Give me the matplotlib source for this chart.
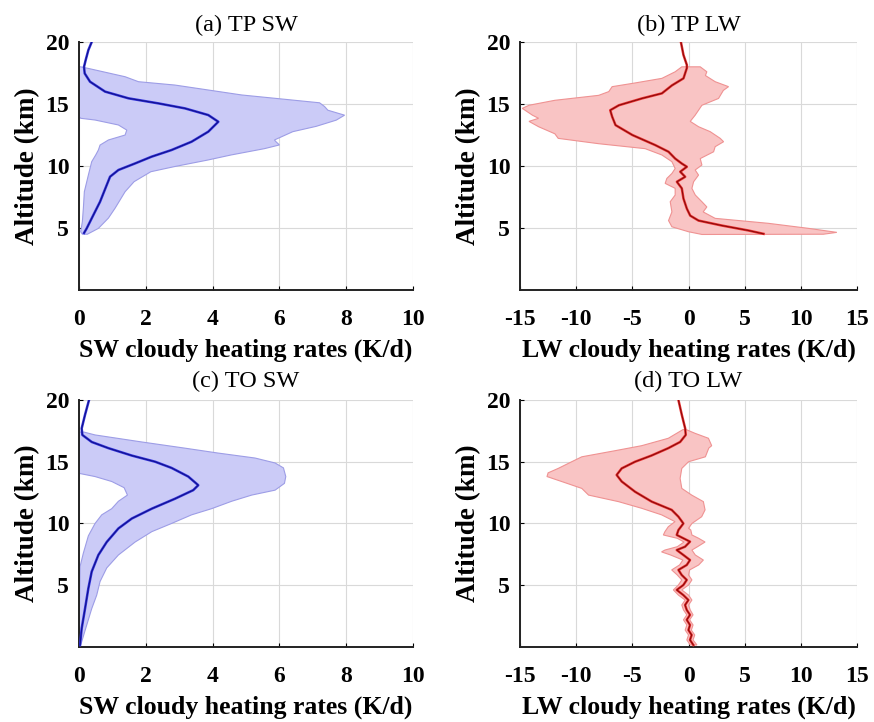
import matplotlib
matplotlib.use("Agg")
import matplotlib.pyplot as plt

plt.rcParams["font.family"] = ["Liberation Serif", "DejaVu Serif"]
plt.rcParams["axes.unicode_minus"] = False  # the reference uses a plain hyphen

# ---- (a) TP SW ----
a_mean_alt = [20.0, 19.35, 18.55, 18.0, 17.47, 16.8, 16.0, 15.46, 15.05, 14.65, 14.11, 13.57,
              12.77, 11.96, 11.29, 10.75, 10.21, 9.68, 9.14, 8.47, 7.12, 6.05, 4.97, 4.6]
a_mean = [0.38, 0.28, 0.2, 0.15, 0.17, 0.33, 0.78, 1.48, 2.38, 3.17, 3.87, 4.17,
          3.87, 3.37, 2.77, 2.17, 1.68, 1.18, 0.93, 0.83, 0.63, 0.43, 0.23, 0.15]
a_hi_alt = [18.0, 17.87, 17.2, 16.8, 16.53, 16.13, 15.73, 15.46, 15.1, 14.8, 14.5, 14.1, 13.7,
            13.2, 12.77, 12.1, 11.95, 11.7, 11.4, 10.89, 10.48, 9.95, 9.54, 8.74, 7.93, 6.6,
            5.8, 4.97, 4.5]
a_hi = [0.05, 0.28, 1.38, 1.78, 2.87, 3.87, 4.87, 5.87, 7.2, 7.35, 7.45, 7.95, 7.7,
        7.1, 6.4, 5.85, 5.9, 6.0, 5.55, 4.55, 3.85, 2.85, 2.15, 1.65, 1.38, 1.08,
        0.88, 0.58, 0.25]
a_lo_alt = [18.0, 14.0, 13.85, 13.71, 13.31, 12.9, 12.5, 12.1, 11.69, 11.29, 10.89, 10.35,
            9.27, 7.93, 6.59, 5.51, 4.7, 4.5]
a_lo = [0.0, 0.0, 0.05, 0.48, 1.18, 1.43, 1.38, 0.88, 0.63, 0.58, 0.5, 0.38,
        0.28, 0.16, 0.13, 0.1, 0.05, 0.1]

# ---- (b) TP LW ----
b_mean_alt = [20.0, 18.95, 18.15, 17.9, 17.07, 16.5, 15.86, 15.45, 14.9, 14.5, 13.98, 13.3,
              12.5, 11.69, 11.15, 10.6, 10.2, 9.94, 9.54, 9.13, 8.73, 8.2, 7.37, 6.56, 6.0,
              5.6, 5.2, 4.8, 4.53]
b_mean = [-0.68, -0.45, -0.15, -0.15, -0.45, -1.48, -2.37, -4.15, -6.2, -6.97, -6.8, -6.5,
          -5.0, -2.97, -1.78, -1.19, -0.6, -0.15, -0.74, -0.3, -1.04, -0.6, -0.45, -0.15, 0.15,
          0.89, 2.97, 5.34, 6.68]
b_hi_alt = [18.0, 17.6, 17.3, 16.8, 16.4, 16.1, 15.45, 14.9, 14.1, 13.6, 13.17, 12.77, 12.23,
            11.96, 11.56, 11.15, 10.6, 10.08, 9.68, 9.27, 8.73, 8.2, 7.66, 7.12, 6.7, 6.3,
            5.78, 5.38, 4.97, 4.65, 4.5]
b_hi = [1.04, 1.63, 1.5, 2.37, 3.56, 3.1, 2.67, 1.19, 0.59, 0.15, 0.89, 1.93, 2.82,
        3.12, 2.37, 2.23, 1.04, 1.19, 0.59, 0.89, 0.45, 0.3, 0.6, 1.19, 1.63, 1.3,
        2.37, 7.1, 10.7, 13.2, 12.0]
b_lo_alt = [18.0, 17.6, 17.07, 16.7, 16.4, 16.0, 15.7, 15.3, 14.9, 14.65, 14.1, 13.85, 13.6,
            13.17, 12.6, 12.23, 11.8, 11.4, 10.89, 10.35, 9.8, 9.4, 9.0, 8.6, 8.2, 7.66,
            7.12, 6.3, 5.6, 5.1, 4.7, 4.48]
b_lo = [-0.6, -1.19, -2.37, -4.75, -6.8, -7.1, -8.0, -11.9, -14.2, -14.8, -13.9, -13.35, -14.2,
        -13.35, -11.9, -11.6, -8.0, -3.86, -2.37, -1.48, -1.19, -1.48, -1.93, -2.08, -1.19, -1.19,
        -1.63, -1.48, -1.78, -1.48, 0.0, 1.2]

# ---- (c) TO SW ----
c_mean_alt = [20.0, 18.8, 17.7, 17.17, 16.6, 16.1, 15.5, 15.0, 14.5, 13.8, 13.1, 12.7, 12.0,
              11.2, 10.4, 9.6, 8.5, 7.45, 6.1, 4.75, 3.1, 1.5, 0.15]
c_mean = [0.3, 0.18, 0.08, 0.1, 0.38, 0.88, 1.58, 2.28, 2.77, 3.27, 3.57, 3.42, 2.87,
          2.18, 1.58, 1.18, 0.83, 0.58, 0.38, 0.28, 0.18, 0.08, 0.03]
c_hi_alt = [17.4, 17.17, 16.6, 16.1, 15.7, 15.3, 14.9, 14.5, 13.8, 13.25, 12.7, 12.3, 11.8,
            11.2, 10.7, 10.0, 9.34, 8.5, 7.45, 6.4, 5.3, 4.2, 3.1, 1.5, 0.15]
c_hi = [0.15, 0.48, 1.88, 3.17, 4.17, 5.27, 5.87, 6.12, 6.19, 6.15, 5.87, 5.17, 4.57,
        3.97, 3.37, 2.77, 2.18, 1.68, 1.18, 0.83, 0.63, 0.53, 0.38, 0.2, 0.05]
c_lo_alt = [17.4, 14.06, 13.8, 13.4, 12.9, 12.3, 11.8, 11.2, 10.7, 10.0, 9.0, 7.6, 6.5, 0.15]
c_lo = [0.0, 0.0, 0.48, 0.98, 1.35, 1.45, 1.18, 0.98, 0.68, 0.48, 0.28, 0.13, 0.03, 0.0]

# ---- (d) TO LW ----
d_mean_alt = [20.0, 18.8, 17.7, 17.17, 16.6, 16.1, 15.5, 15.0, 14.46, 13.93, 13.4, 12.57, 11.77,
              11.1, 10.55, 10.0, 9.47, 9.07, 8.8, 8.53, 8.12, 7.85, 7.45, 7.04, 6.64, 6.24,
              5.83, 5.43, 5.02, 4.62, 4.2, 3.8, 3.4, 3.0, 2.6, 2.2, 1.78, 1.37, 0.97, 0.57, 0.16]
d_mean = [-0.9, -0.6, -0.3, -0.25, -0.75, -1.8, -3.3, -4.76, -5.95, -6.4, -5.95, -4.76, -3.28,
          -1.5, -0.9, -0.46, -0.9, -1.05, -0.46, 0.13, -0.31, -1.05, -0.46, 0.13, -0.16, -0.9,
          -0.61, -0.16, -0.46, -1.05, -0.46, -0.01, -0.31, -0.16, 0.13, -0.16, 0.13, -0.01,
          0.28, 0.13, 0.43]
d_hi_alt = [17.6, 17.3, 16.9, 16.3, 16.1, 15.4, 15.0, 14.46, 13.65, 12.84, 12.3, 11.77, 11.1,
            10.55, 10.0, 9.61, 9.47, 9.07, 8.8, 8.5, 8.12, 7.85, 7.45, 7.04, 6.64, 6.24, 5.83,
            5.43, 5.02, 4.62, 4.2, 3.8, 3.4, 3.0, 2.6, 2.2, 1.78, 1.37, 0.97, 0.57, 0.16]
d_hi = [-0.2, 0.58, 1.77, 2.06, 1.8, 1.5, 0.0, -0.6, -0.75, -0.6, 0.28, 1.32, 1.47,
        1.17, 0.3, 0.0, 0.2, 0.3, 0.9, 1.47, 0.8, 0.3, 0.6, 1.32, 0.9, 0.1, 0.0,
        0.3, 0.0, -0.6, 0.0, 0.3, 0.0, 0.15, 0.4, 0.1, 0.4, 0.25, 0.55, 0.4, 0.75]
d_lo_alt = [17.6, 16.9, 16.3, 15.9, 15.4, 15.0, 14.46, 14.1, 13.8, 13.4, 12.84, 12.3, 11.77,
            11.23, 10.7, 10.15, 9.74, 9.34, 9.07, 8.8, 8.5, 8.12, 7.85, 7.7, 7.45, 7.04, 6.64,
            6.24, 5.83, 5.43, 5.02, 4.62, 4.2, 3.8, 3.4, 3.0, 2.6, 2.2, 1.78, 1.37, 0.97,
            0.57, 0.16]
d_lo = [-0.5, -1.8, -4.17, -6.5, -9.5, -10.4, -11.6, -12.5, -12.6, -11.3, -9.5, -8.9, -6.24,
        -4.17, -2.4, -1.2, -1.8, -2.1, -2.24, -1.0, -0.4, -1.0, -2.1, -2.4, -1.6, -0.5, -0.8,
        -1.5, -1.0, -0.6, -0.9, -1.35, -0.9, -0.3, -0.6, -0.45, -0.15, -0.45, -0.15, -0.3, 0.0,
        -0.15, 0.15]

SW_TICKS = [0, 2, 4, 6, 8, 10]
LW_TICKS = [-15, -10, -5, 0, 5, 10, 15]
ALT_TICKS = [5, 10, 15, 20]

BLUE = dict(fill="#cbcbf7", edge="#9d9de6", outer="#3535e0", inner="#12128c")
RED = dict(fill="#f9c4c4", edge="#ef9292", outer="#ec3535", inner="#8c0a0a")


def panel(ax, title, mean_alt, mean, hi_alt, hi, lo_alt, lo, sty, xlim, xticks, xlabel, tpad):
    # band polygon: upper edge top->bottom, then lower edge bottom->top
    xs = list(hi) + list(lo)[::-1]
    ys = list(hi_alt) + list(lo_alt)[::-1]
    ax.fill(xs, ys, facecolor=sty["fill"], edgecolor=sty["edge"], lw=0.8, zorder=2)
    ax.plot(mean, mean_alt, color=sty["outer"], lw=1.8, zorder=3)
    ax.plot(mean, mean_alt, color=sty["inner"], lw=0.8, zorder=4)
    ax.set_xlim(*xlim)
    ax.set_ylim(0, 20)
    ax.set_xticks(xticks)
    ax.set_yticks(ALT_TICKS)
    ax.grid(True, color="#d9d9d9", lw=0.8)
    ax.set_axisbelow(True)
    for s in ("top", "right"):
        ax.spines[s].set_visible(False)
    for s in ("left", "bottom"):
        ax.spines[s].set_linewidth(1.4)
        ax.spines[s].set_color("#222222")
    ax.tick_params(axis="x", direction="in", length=3, pad=14, labelsize=17)
    ax.tick_params(axis="y", direction="in", length=3, pad=7, labelsize=17)
    for lab in ax.get_xticklabels() + ax.get_yticklabels():
        lab.set_fontweight("bold")
    ax.set_xlabel(xlabel, fontsize=18.5, fontweight="bold", labelpad=6)
    ax.set_ylabel("Altitude (km)", fontsize=19.5, fontweight="bold", labelpad=4)
    ax.set_title(title, fontsize=17.5, pad=tpad)


fig = plt.figure(figsize=(8.74, 7.22), dpi=100)
ax_a = fig.add_axes([0.0904, 0.5983, 0.3822, 0.3435])
ax_b = fig.add_axes([0.595, 0.5983, 0.3856, 0.3435])
ax_c = fig.add_axes([0.0904, 0.1039, 0.3822, 0.3421])
ax_d = fig.add_axes([0.595, 0.1039, 0.3856, 0.3421])

panel(ax_a, "(a) TP SW", a_mean_alt, a_mean, a_hi_alt, a_hi, a_lo_alt, a_lo, BLUE,
      (0, 10), SW_TICKS, "SW cloudy heating rates (K/d)", 8)
panel(ax_b, "(b) TP LW", b_mean_alt, b_mean, b_hi_alt, b_hi, b_lo_alt, b_lo, RED,
      (-15, 15), LW_TICKS, "LW cloudy heating rates (K/d)", 8)
panel(ax_c, "(c) TO SW", c_mean_alt, c_mean, c_hi_alt, c_hi, c_lo_alt, c_lo, BLUE,
      (0, 10), SW_TICKS, "SW cloudy heating rates (K/d)", 9)
panel(ax_d, "(d) TO LW", d_mean_alt, d_mean, d_hi_alt, d_hi, d_lo_alt, d_lo, RED,
      (-15, 15), LW_TICKS, "LW cloudy heating rates (K/d)", 9)

fig.savefig("out.png", dpi=100)
